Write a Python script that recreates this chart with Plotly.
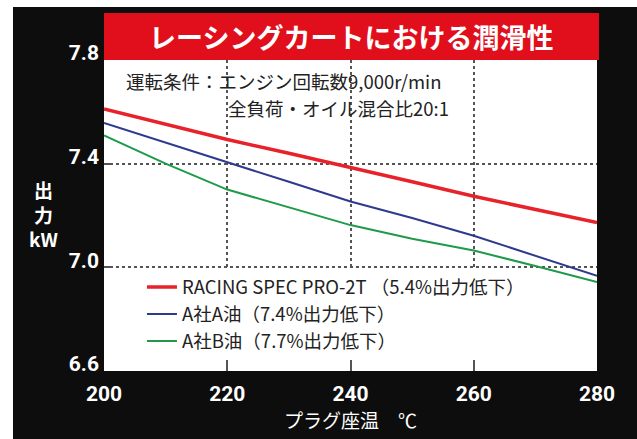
import plotly.graph_objects as go

temps = [200, 210, 220, 230, 240, 250, 260, 270, 280]
racing = [7.611, 7.552, 7.493, 7.440, 7.386, 7.330, 7.274, 7.224, 7.173]
oil_a = [7.557, 7.482, 7.405, 7.330, 7.254, 7.190, 7.122, 7.045, 6.967]
oil_b = [7.509, 7.400, 7.300, 7.232, 7.163, 7.110, 7.065, 7.005, 6.943]

x_ticks = [200, 220, 240, 260, 280]
y_ticks = [6.6, 7.0, 7.4, 7.8]
y_tick_text = ["6.6", "7.0", "7.4", "7.8"]

title_text = "<b>レーシングカートにおける潤滑性</b>"
cond1 = "運転条件：エンジン回転数9,000r/min"
cond2 = "全負荷・オイル混合比20:1"
x_title = "プラグ座温　℃"
y_title = "出<br>力<br>kW"

NUM = "Liberation Sans Narrow, Arial Narrow, Roboto, Liberation Sans, sans-serif"
JP = "Noto Sans CJK JP, Noto Sans, sans-serif"

names = [
    "RACING SPEC PRO-2T （5.4%出力低下）",
    "A社A油（7.4%出力低下）",
    "A社B油（7.7%出力低下）",
]
colors = ["#e8222a", "#2e3a8e", "#1f9a4a"]
widths = [3.5, 2, 2]
series = [racing, oil_a, oil_b]

fig = go.Figure()
for nm, ys, c, w in zip(names, series, colors, widths):
    fig.add_trace(go.Scatter(x=temps, y=ys, mode="lines", name=nm,
                             line=dict(color=c, width=w)))

shapes = [
    dict(type="rect", xref="paper", yref="paper", x0=-0.3, x1=-0.1846, y0=-0.3, y1=1.3,
         fillcolor="white", line_width=0, layer="above"),
    dict(type="rect", xref="paper", yref="paper", x0=-0.3, x1=1.2, y0=1.1704, y1=1.3,
         fillcolor="white", line_width=0, layer="above"),
    dict(type="rect", xref="paper", yref="paper", x0=0, x1=1.004, y0=1.0, y1=1.151,
         fillcolor="#e10f1b", line_width=0, layer="above"),
]

annotations = [
    dict(text=title_text, xref="paper", yref="paper", x=0.501, y=1.074,
         xanchor="center", yanchor="middle", showarrow=False,
         font=dict(family=JP, size=27, color="white")),
    dict(text=cond1, xref="paper", yref="paper", x=0.0426, y=0.932,
         xanchor="left", yanchor="middle", showarrow=False, borderpad=0,
         font=dict(family=JP, size=18.5, color="#222222")),
    dict(text=cond2, xref="paper", yref="paper", x=0.2495, y=0.8455,
         xanchor="left", yanchor="middle", showarrow=False, borderpad=0,
         font=dict(family=JP, size=18.5, color="#222222")),
    dict(text=y_title, xref="paper", yref="paper", x=-0.1237, y=0.505,
         xanchor="center", yanchor="middle", showarrow=False,
         font=dict(family=JP, size=19, color="white", weight="bold")),
]

fig.update_layout(
    width=637, height=439,
    margin=dict(l=104, r=40, t=60, b=68, autoexpand=False),
    paper_bgcolor="#0d0d0d",
    plot_bgcolor="white",
    shapes=shapes,
    annotations=annotations,
    showlegend=True,
    legend=dict(x=0.077, y=0.33, xanchor="left", yanchor="top",
                bgcolor="white", borderwidth=0,
                font=dict(family=JP, size=18.5, color="#222222"),
                tracegroupgap=0),
    xaxis=dict(range=[200, 280], tickvals=x_ticks, showgrid=True, automargin=False,
               gridcolor="#555555", griddash="dot", gridwidth=1.5,
               ticks="inside", ticklen=9, tickcolor="#555555", tickwidth=1.5,
               showline=False, zeroline=False,
               tickfont=dict(family=NUM, size=21, color="white", weight="bold"),
               ticklabelstandoff=8,
               title=dict(text=x_title, standoff=4,
                          font=dict(family=JP, size=19, color="white"))),
    yaxis=dict(range=[6.6, 7.8], tickvals=y_ticks, ticktext=y_tick_text, automargin=False,
               showgrid=True, gridcolor="#555555", griddash="dot", gridwidth=1.5,
               ticks="inside", ticklen=9, tickcolor="#555555", tickwidth=1.5,
               showline=False, zeroline=False,
               tickfont=dict(family=NUM, size=21, color="white", weight="bold"),
               ticklabelstandoff=4, ticklabelshift=-7),
)

fig.write_html("out.html", config={"displayModeBar": False},
               post_script="document.body.style.margin='0';")
